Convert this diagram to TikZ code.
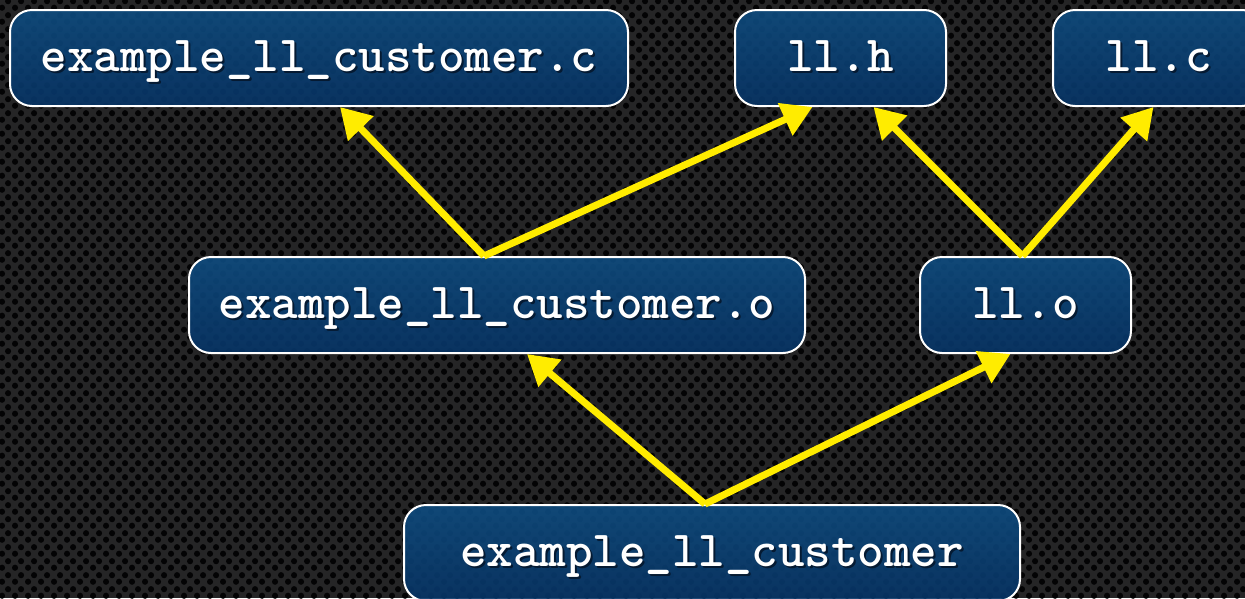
\documentclass[tikz,border=0pt]{standalone}
\usepackage{fontspec}
\newfontfamily\codefont{Latin Modern Mono Light}
\usetikzlibrary{arrows.meta,patterns,calc}

% perforated metal plate: staggered rows of round holes
\pgfdeclarepatternformonly{perforated}{\pgfpointorigin}{\pgfpoint{13pt}{14pt}}{\pgfpoint{13pt}{14pt}}{%
  \pgfpathcircle{\pgfpoint{3.25pt}{3.5pt}}{3.3pt}%
  \pgfpathcircle{\pgfpoint{9.75pt}{10.5pt}}{3.3pt}%
  \pgfusepath{fill}%
}

\definecolor{plate}{RGB}{37,37,38}
\definecolor{hole}{RGB}{3,3,4}
\definecolor{boxtop}{RGB}{14,76,128}
\definecolor{boxbot}{RGB}{7,52,102}
\definecolor{txtshadow}{RGB}{5,26,50}
\definecolor{arrowyellow}{RGB}{255,236,0}

% white label with a soft dark drop shadow
\newcommand\shadowed[1]{\makebox[0pt][l]{\hspace{2pt}\raisebox{-2.5pt}{\textcolor{txtshadow}{#1}}}#1}

\tikzset{
  filebox/.style={draw=white, line width=2pt, rounded corners=22pt,
    top color=boxtop, bottom color=boxbot, fill opacity=0.9, text opacity=1,
    minimum height=96pt, inner sep=0pt, text height=32pt, text depth=6pt,
    text=white, font=\fontsize{50.5}{54}\selectfont\codefont\bfseries},
  depends/.style={draw=arrowyellow, line width=7pt,
    -{Triangle[length=30pt,width=34pt]}},
}

\begin{document}
\begin{tikzpicture}[x=1pt,y=-1pt]
  \useasboundingbox (0,0) rectangle (1245,598);
  \clip (0,0) rectangle (1245,598);
  \fill[plate] (0,0) rectangle (1245,598);
  \fill[pattern=perforated, pattern color=hole] (0,0) rectangle (1245,598);

  % source and header files
  \node[filebox, minimum width=618pt] (custc) at (319,58)    {\shadowed{example\_ll\_customer.c}};
  \node[filebox, minimum width=211pt] (llh)   at (840.5,58)  {\shadowed{ll.h}};
  \node[filebox, minimum width=211pt] (llc)   at (1158.5,58) {\shadowed{ll.c}};
  % object files
  \node[filebox, minimum width=616pt] (custo) at (497,305)   {\shadowed{example\_ll\_customer.o}};
  \node[filebox, minimum width=211pt] (llo)   at (1025.5,305){\shadowed{ll.o}};
  % executable
  \node[filebox, minimum width=616pt] (exe)   at (712,553)   {\shadowed{example\_ll\_customer}};

  % dependencies
  \draw[depends] ([xshift=-13pt]custo.north) -- ([xshift=21pt]custc.south);
  \draw[depends] ([xshift=-13pt]custo.north) -- ([xshift=-28pt]llh.south);
  \draw[depends] ([xshift=-3pt]llo.north) -- ([xshift=33pt]llh.south);
  \draw[depends] ([xshift=-3pt]llo.north) -- ([xshift=-5pt]llc.south);
  \draw[depends] ([xshift=-7pt]exe.north) -- ([xshift=30pt]custo.south);
  \draw[depends] ([xshift=-7pt]exe.north) -- ([xshift=-15pt]llo.south);
\end{tikzpicture}
\end{document}
